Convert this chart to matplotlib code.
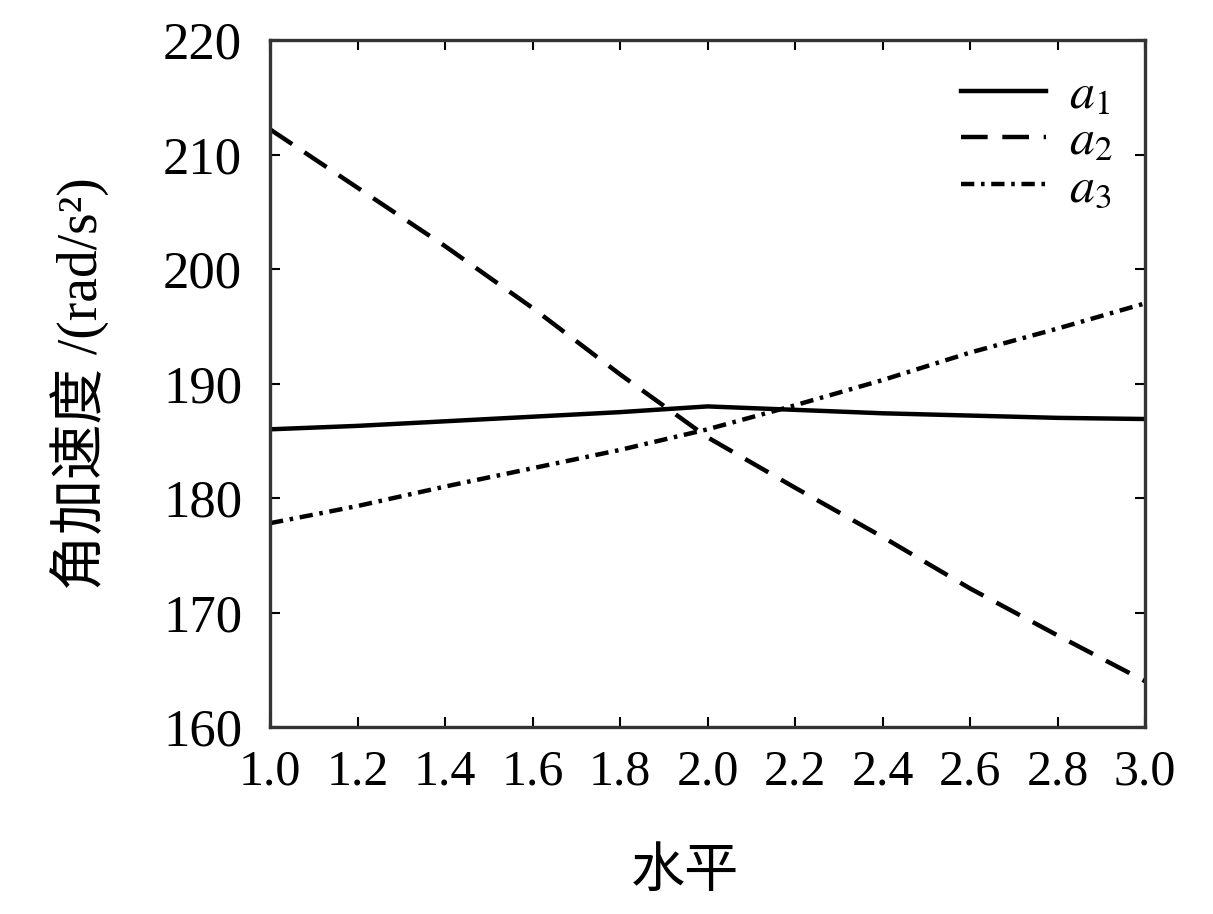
import numpy as np
import matplotlib
matplotlib.use('Agg')
import matplotlib.pyplot as plt

plt.rcParams['font.family'] = ['Liberation Serif', 'Noto Sans CJK SC', 'DejaVu Sans']
plt.rcParams['mathtext.fontset'] = 'stix'

# values
levels = [1.0, 1.2, 1.4, 1.6, 1.8, 2.0, 2.2, 2.4, 2.6, 2.8, 3.0]
a1 = [186.0, 186.3, 186.7, 187.1, 187.5, 188.0, 187.7, 187.4, 187.2, 187.0, 186.9]
a2 = [212.2, 207.1, 202.0, 196.6, 190.8, 185.3, 180.9, 176.6, 172.1, 168.0, 164.0]
a3 = [177.8, 179.3, 181.0, 182.6, 184.2, 186.0, 188.1, 190.3, 192.7, 194.8, 197.0]
series_labels = ['$a_1$', '$a_2$', '$a_3$']

xticks = [1.0, 1.2, 1.4, 1.6, 1.8, 2.0, 2.2, 2.4, 2.6, 2.8, 3.0]
yticks = [160, 170, 180, 190, 200, 210, 220]

fig = plt.figure(figsize=(12.13, 9.14), dpi=100)
ax = fig.add_axes([0.2226, 0.2046, 0.7214, 0.7516])

lw = 3.2
ax.plot(levels, a1, color='black', lw=lw, label=series_labels[0])
ax.plot(levels, a2, color='black', lw=lw, dashes=(6, 3.3), label=series_labels[1])
ax.plot(levels, a3, color='black', lw=lw, dashes=(3, 1.5, 0.8, 1.5), label=series_labels[2])

ax.set_xlim(1.0, 3.0)
ax.set_ylim(160, 220)
ax.set_xticks(xticks)
ax.set_xticklabels(['%.1f' % v for v in xticks])
ax.set_yticks(yticks)
ax.tick_params(direction='in', length=7, width=1.5, top=True, right=True,
               colors='black')
ax.tick_params(axis='y', labelsize=38, pad=20)
ax.tick_params(axis='x', labelsize=36, pad=16)
for s in ax.spines.values():
    s.set_linewidth(2.4)
    s.set_color('#333333')

ax.set_xlabel('水平', fontsize=39, labelpad=38)
ax.xaxis.label.set_x(0.474)
ax.set_ylabel('角加速度 /(rad/s²)', fontsize=40, labelpad=38)

leg = ax.legend(loc='upper right', frameon=False, fontsize=36, handlelength=1.7,
                handletextpad=0.45, labelspacing=0.0, borderaxespad=0.25)

fig.savefig('out.png', dpi=100)
